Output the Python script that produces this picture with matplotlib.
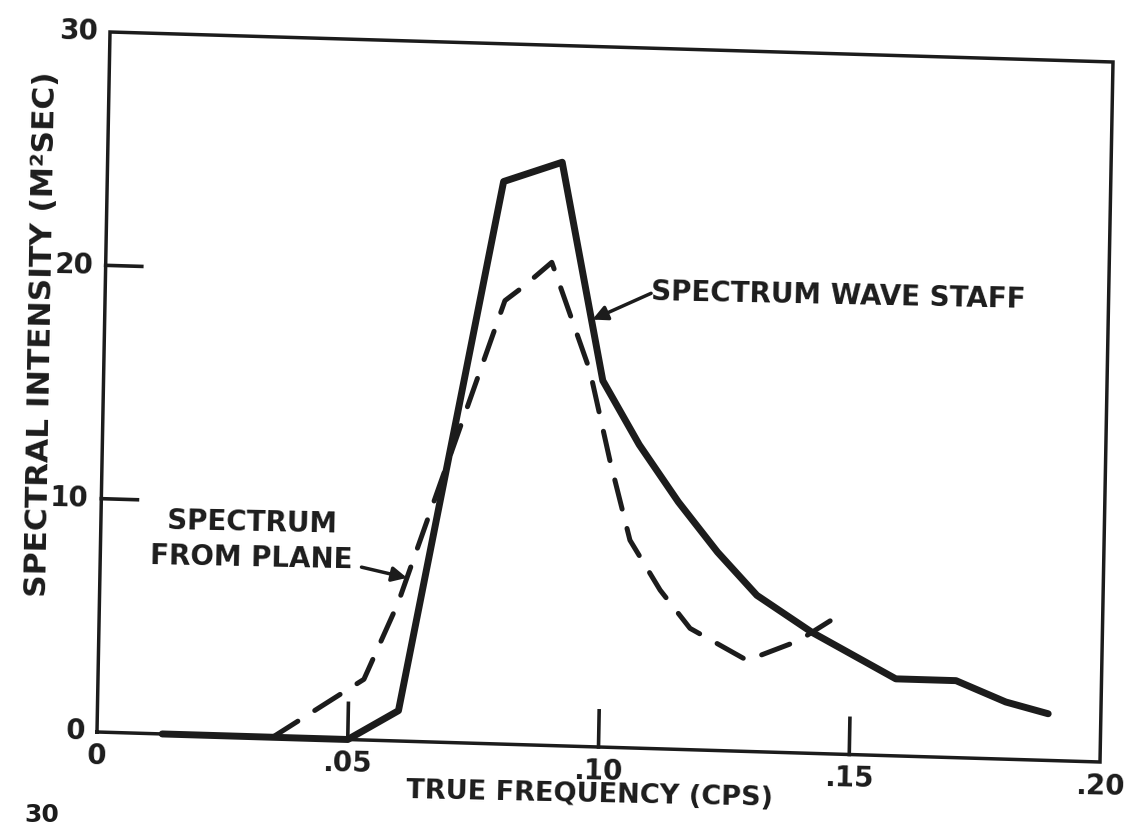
import numpy as np
import matplotlib.pyplot as plt
from matplotlib.transforms import Affine2D

# wave staff spectrum (solid)
freq_staff = [0.013, 0.050, 0.060, 0.079, 0.0906, 0.0995, 0.107, 0.115,
              0.123, 0.131, 0.142, 0.159, 0.171, 0.181, 0.1895]
spec_staff = [0.0, 0.0, 1.3, 24.1, 25.0, 15.7, 13.0, 10.6,
              8.5, 6.7, 5.2, 3.3, 3.3, 2.45, 2.0]

# spectrum from plane (dashed)
freq_plane = [0.035, 0.053, 0.0595, 0.0797, 0.0832, 0.0889, 0.0969, 0.1012,
              0.1055, 0.1117, 0.1178, 0.1293, 0.1394, 0.1457]
spec_plane = [0.0, 2.6, 5.9, 19.0, 19.6, 20.7, 16.1, 12.3,
              8.9, 6.8, 5.2, 3.9, 4.8, 5.7]

xticks = [0.05, 0.10, 0.15]
xtick_pos = [0.0, 0.05, 0.10, 0.15, 0.20]
xtick_labels = ['0', '.05', '.10', '.15', '.20']
yticks = [10, 20]
ytick_pos = [0, 10, 20, 30]
ytick_labels = ['0', '10', '20', '30']

ink = '#1c1c1c'
plt.rcParams['font.family'] = ['DejaVu Sans']
plt.rcParams['font.weight'] = 'bold'

W, H = 1139, 830
fig = plt.figure(figsize=(W / 100, H / 100), dpi=100)
fig.patch.set_facecolor('white')

# axes box in pixels: left 97, bottom at 732 from top, 1003 wide, 700 tall
ax = fig.add_axes([97 / W, (H - 732) / H, 1003 / W, 700 / H])
ax.set_xlim(0, 0.2)
ax.set_ylim(0, 30)
ax.axis('off')

# the printed sheet sits slightly askew
px, py = 97, H - 732
shear = np.array([[1.0, 13 / 700, 0.0],
                  [-30 / 1003, 1.0, 0.0],
                  [0.0, 0.0, 1.0]])
skew = Affine2D().translate(-px, -py) + Affine2D(shear) + Affine2D().translate(px, py)
tr = ax.transData + skew

# frame
ax.plot([0, 0.2, 0.2, 0, 0], [0, 0, 30, 30, 0], color=ink, lw=2.5,
        transform=tr, clip_on=False, solid_joinstyle='miter')

# inward ticks
for x in xticks:
    ax.plot([x, x], [0, 1.55], color=ink, lw=2.6, transform=tr, clip_on=False)
for y in yticks:
    ax.plot([0, 0.0072], [y, y], color=ink, lw=2.6, transform=tr, clip_on=False)

for x, lab in zip(xtick_pos, xtick_labels):
    ax.text(x, -1.05, lab, transform=tr, ha='center', va='center',
            fontsize=20, color=ink, rotation=-1.2)
for y, lab in zip(ytick_pos, ytick_labels):
    ax.text(-0.0024, y, lab, transform=tr, ha='right', va='center',
            fontsize=20, color=ink, rotation=-1.2)

# curves
ax.plot(freq_staff, spec_staff, color=ink, lw=5, transform=tr, clip_on=False,
        solid_joinstyle='round', solid_capstyle='round')
ax.plot(freq_plane, spec_plane, color=ink, lw=3.6, transform=tr, clip_on=False,
        linestyle=(0, (6, 4)), dash_capstyle='round', dash_joinstyle='round')

# labels on the curves
ax.text(0.1088, 19.4, 'SPECTRUM WAVE STAFF', transform=tr, ha='left',
        va='center', fontsize=20, color=ink, rotation=-1.2)
ax.annotate('', xy=(0.0972, 18.3), xycoords=tr, xytext=(0.1088, 19.5), textcoords=tr,
            arrowprops=dict(arrowstyle='-|>', color=ink, lw=2.5, mutation_scale=22,
                            shrinkA=0, shrinkB=0))

ax.text(0.0302, 8.4, 'SPECTRUM\nFROM PLANE', transform=tr, ha='center',
        va='center', multialignment='center', linespacing=1.3,
        fontsize=20, color=ink, rotation=-1.2)
ax.annotate('', xy=(0.0612, 7.0), xycoords=tr, xytext=(0.0521, 7.4), textcoords=tr,
            arrowprops=dict(arrowstyle='-|>', color=ink, lw=2.5, mutation_scale=22,
                            shrinkA=0, shrinkB=0))

# axis titles
fig.text(590 / W, 1 - 795 / H, 'TRUE FREQUENCY (CPS)', ha='center', va='center',
         fontsize=19.5, color=ink, rotation=-1.2)
fig.text(42 / W, 1 - 334 / H, 'SPECTRAL INTENSITY (M²SEC)', ha='center',
         va='center', fontsize=22.5, color=ink, rotation=89)

# top of the next panel's scale showing at the bottom edge
fig.text(42 / W, 3 / H, '30', ha='center', va='bottom', fontsize=18, color=ink)

fig.savefig('out.png', dpi=100, facecolor='white')
